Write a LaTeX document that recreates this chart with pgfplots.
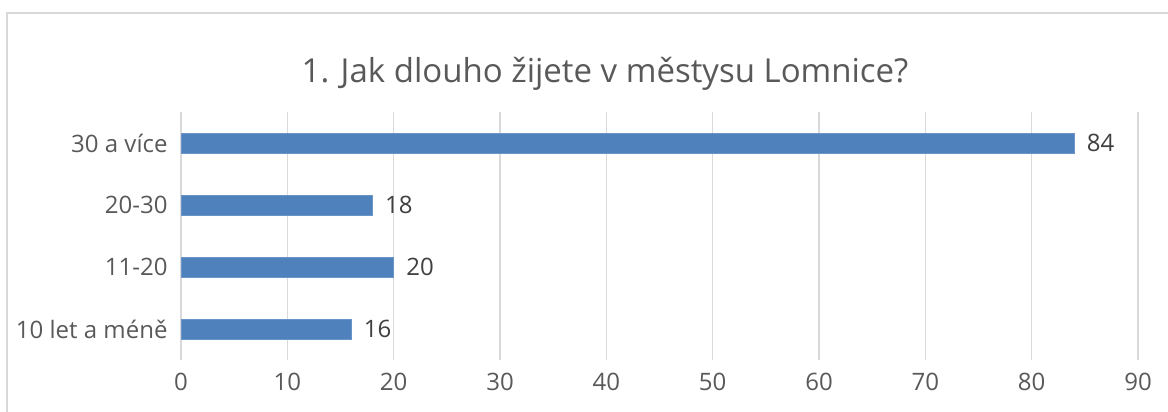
\documentclass[border=0pt]{standalone}
\usepackage{fontspec}
\setmainfont{Open Sans}
\usepackage{pgfplots}
\pgfplotsset{compat=1.18}
\definecolor{barblue}{HTML}{4F81BD}
\definecolor{txt}{HTML}{595959}
\definecolor{lbl}{HTML}{404040}
\definecolor{gridc}{HTML}{D9D9D9}
\begin{document}
\begin{tikzpicture}
\path[use as bounding box] (0,0) rectangle (1168bp,412bp);
\draw[gridc, line width=1.5bp] (7bp,-5bp) -- (7bp,399bp) -- (1175bp,399bp);
\node[txt, anchor=base, font=\fontsize{33bp}{38bp}\selectfont] at (605bp,329bp) {1. Jak dlouho žijete v městysu Lomnice?};
\begin{axis}[
  at={(181bp,52bp)}, anchor=south west,
  scale only axis, width=957bp, height=248bp,
  xmin=0, xmax=90, ymin=-0.5, ymax=3.5,
  xbar, bar width=20bp,
  xtick={0,10,...,90}, ytick={0,1,2,3},
  yticklabels={10 let a méně,11-20,20-30,30 a více},
  xmajorgrids, major grid style={gridc, line width=1.3bp},
  axis line style={draw=none},
  major tick length=0pt,
  /pgf/number format/assume math mode=true,
  tick label style={txt, font=\fontsize{24bp}{28bp}\selectfont},
  xticklabel style={yshift=-10bp},
  yticklabel style={xshift=-10bp},
  nodes near coords,
  nodes near coords style={lbl, font=\fontsize{24bp}{28bp}\selectfont, anchor=west, xshift=9bp},
]
\addplot[fill=barblue, draw=barblue!85!white, line width=0.8bp] coordinates {(16,0) (20,1) (18,2) (84,3)};
\end{axis}
\end{tikzpicture}
\end{document}
